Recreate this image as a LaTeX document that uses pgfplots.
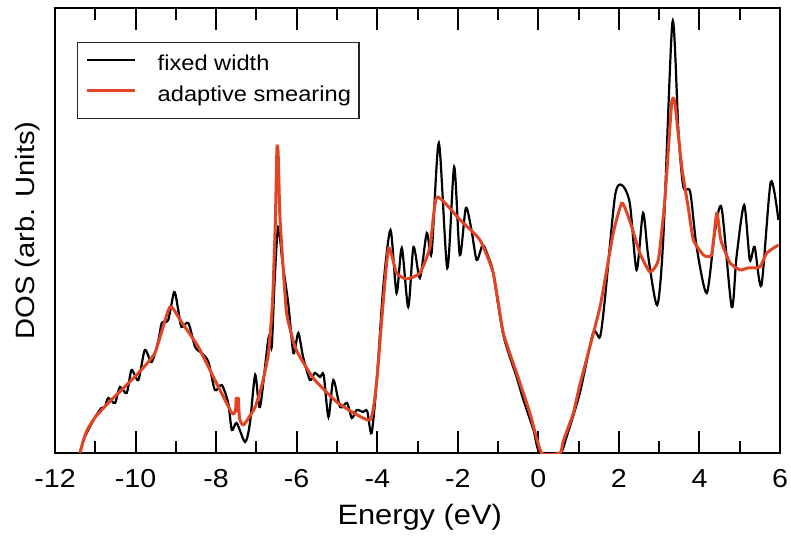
\documentclass[border=0pt]{standalone}
\usepackage{fontspec}
\setmainfont[FakeStretch=1.1]{Liberation Sans}
\usepackage{pgfplots}
\pgfplotsset{compat=1.18}
\definecolor{myred}{RGB}{226,68,36}
\begin{document}
\begin{tikzpicture}
\useasboundingbox (-55pt,-85pt) rectangle (736pt,453pt);
\begin{axis}[
  at={(0pt,0pt)}, anchor=south west,
  scale only axis, width=725pt, height=445pt,
  xmin=-12, xmax=6, ymin=0, ymax=445,
  xtick={-12,-10,...,6}, minor x tick num=1,
  ytick=\empty,
  tick align=inside,
  major tick length=22pt, minor tick length=12pt,
  every tick/.style={black, line width=2pt},
  axis line style={line width=2.5pt},
  /pgf/number format/assume math mode=true,
  xticklabel style={font=\fontsize{26}{30}\selectfont, yshift=-13pt},
  xlabel={Energy (eV)},
  ylabel={DOS (arb. Units)},
  xlabel style={font=\fontsize{28}{32}\selectfont, at={(axis description cs:0.503,-0.1438)}, anchor=center},
  ylabel style={font=\fontsize{26.5}{30}\selectfont, at={(axis description cs:-0.0372,0.5)}, anchor=center},
  legend style={at={(axis description cs:0.0303,0.9236)}, anchor=north west,
    draw=black!85, line width=1.5pt, font=\fontsize{21.5}{24}\selectfont,
    inner xsep=8pt, inner ysep=12pt, row sep=10pt,
    nodes={inner sep=0pt, text height=16pt, text depth=5pt},
    /tikz/every odd column/.style={column sep=21pt},
    /tikz/every even column/.style={column sep=3pt}},
  legend cell align=left,
  legend image code/.code={\draw[#1] (0pt,5.5pt) -- (48pt,5.5pt);},
]
\addplot[black, line width=2.2pt, smooth, tension=0.45] coordinates {
(-11.38,0) (-11.26,16) (-11.0,36) (-10.85,45) (-10.76,46) (-10.68,55) (-10.51,50)
(-10.39,66) (-10.22,60) (-10.10,83) (-9.93,73) (-9.77,103) (-9.60,91) (-9.43,113)
(-9.35,130) (-9.19,133) (-9.04,161) (-8.94,143) (-8.86,126) (-8.69,130) (-8.52,106)
(-8.36,100) (-8.19,91) (-8.03,63) (-7.86,68) (-7.70,50) (-7.61,23) (-7.49,30)
(-7.28,11) (-7.16,30) (-7.03,78) (-6.91,46) (-6.70,115) (-6.62,106) (-6.55,170)
(-6.46,226) (-6.35,190) (-6.21,150) (-6.08,100) (-5.96,120) (-5.84,96) (-5.67,73)
(-5.55,80) (-5.42,76) (-5.33,78) (-5.21,36) (-5.09,73) (-4.92,46) (-4.75,50)
(-4.63,35) (-4.51,43) (-4.35,41) (-4.25,42) (-4.14,20) (-4.01,73) (-3.85,166)
(-3.67,223) (-3.52,160) (-3.39,205) (-3.23,146) (-3.10,206) (-2.94,175) (-2.77,220)
(-2.65,200) (-2.47,310) (-2.26,185) (-2.09,286) (-1.95,198) (-1.80,245) (-1.66,223)
(-1.53,193) (-1.38,208) (-1.24,196) (-1.12,180) (-0.87,118) (-0.54,76) (-0.37,53)
(-0.12,23) (0.04,0) (0.54,0) (0.70,16) (1.03,60) (1.36,120) (1.53,116) (1.65,153)
(1.90,256) (2.07,268) (2.27,250) (2.44,183) (2.60,240) (2.73,196) (2.95,148)
(3.10,213) (3.33,431) (3.48,320) (3.60,266) (3.77,261) (3.93,206) (4.18,160)
(4.38,220) (4.55,245) (4.80,146) (4.92,196) (5.11,248) (5.25,193) (5.37,206)
(5.54,168) (5.77,271) (5.96,233)
};
\addlegendentry{fixed width}
\addplot[myred, line width=3pt, line join=round, smooth, tension=0.3] coordinates {
(-11.38,0) (-11.3,12) (-11.2,23) (-11.0,36) (-10.68,50) (-10.35,63) (-9.93,80) (-9.52,100)
(-9.15,146) (-8.86,131) (-8.44,106) (-8.03,73) (-7.61,40) (-7.52,42) (-7.50,55)
(-7.47,42) (-7.45,55) (-7.42,35) (-7.32,28) (-7.03,46) (-6.85,70) (-6.7,100) (-6.6,150)
(-6.53,230) (-6.49,305) (-6.46,300) (-6.42,240) (-6.37,206) (-6.25,140) (-6.04,106)
(-5.8,88) (-5.55,73) (-4.97,50) (-4.18,33) (-4.01,73) (-3.89,133) (-3.72,205) (-3.52,180)
(-3.27,174) (-2.94,180) (-2.69,206) (-2.52,256) (-1.94,233) (-1.45,213) (-1.12,180)
(-0.87,120) (-0.54,80) (-0.21,40) (0.08,0) (0.54,0) (0.62,12) (0.87,40) (1.03,68)
(1.53,146) (1.86,220) (2.07,250) (2.2,240) (2.32,226) (2.52,200) (2.77,181) (2.98,193)
(3.14,253) (3.31,350) (3.39,350) (3.56,286) (3.72,246) (3.85,213) (4.1,198)
(4.3,198) (4.43,240) (4.52,215) (4.59,206) (4.76,190) (5.01,183) (5.2,185)
(5.5,186) (5.67,200) (5.96,208)
};
\addlegendentry{adaptive smearing}
\end{axis}
\end{tikzpicture}
\end{document}
